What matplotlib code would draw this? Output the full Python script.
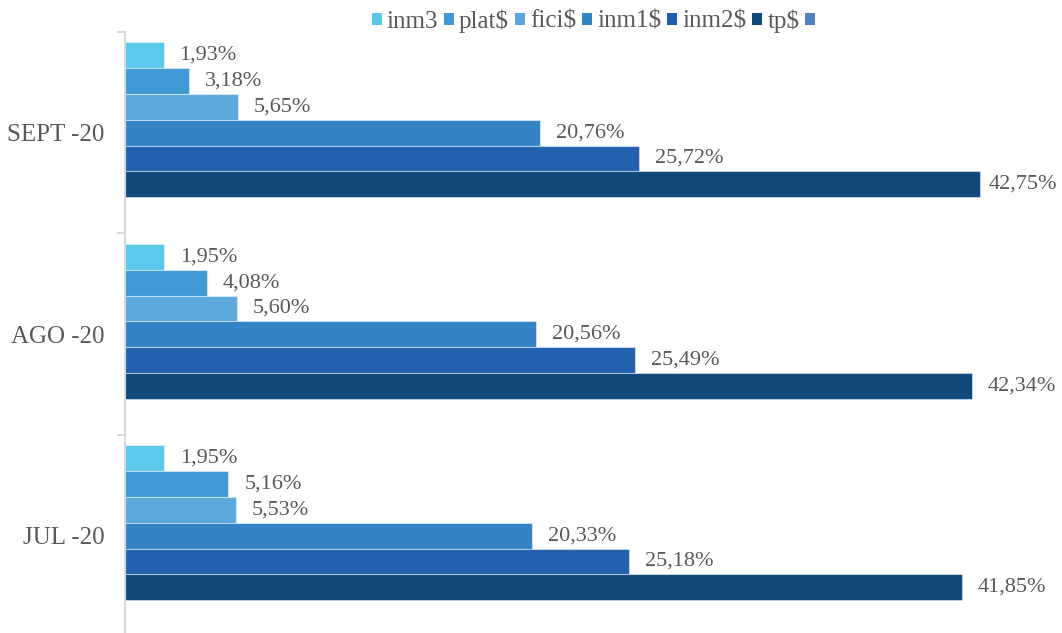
import numpy as np
import matplotlib
matplotlib.use("Agg")
import matplotlib.pyplot as plt
from matplotlib.patches import Patch
from matplotlib.transforms import ScaledTranslation

# Categories (bottom to top on the chart)
months = ["JUL -20", "AGO -20", "SEPT -20"]

# Share of each instrument per month (%)
series_names = ["inm3", "plat$", "fici$", "inm1$", "inm2$", "tp$", ""]
inm3 = [1.95, 1.95, 1.93]
plat = [5.16, 4.08, 3.18]
fici = [5.53, 5.60, 5.65]
inm1 = [20.33, 20.56, 20.76]
inm2 = [25.18, 25.49, 25.72]
tp = [41.85, 42.34, 42.75]
blank = [np.nan, np.nan, np.nan]  # empty series, keeps its slot in each group

values = [inm3, plat, fici, inm1, inm2, tp, blank]
colors = ["#5BC9E9", "#409AD5", "#5CA9DD", "#3584C6", "#2361AE", "#11497A", "#4F81BD"]

plt.rcParams["font.family"] = ["Liberation Serif", "DejaVu Serif"]
text_color = "#595959"

fig = plt.figure(figsize=(10.62, 6.33), dpi=100)
ax = fig.add_axes([125 / 1062, -0.0055, 1 - 125 / 1062, 0.955])

n = len(values)
bar_h = 0.128
y = np.arange(len(months))
labels = []
for i, (vals, col) in enumerate(zip(values, colors)):
    pos = y + bar_h * n / 2 - (i + 0.5) * bar_h
    ax.barh(pos, vals, height=bar_h, color=col,
            edgecolor=(1, 1, 1, 0.45), linewidth=0.8)
    if series_names[i]:
        for p, v in zip(pos, vals):
            t = ax.text(v + 0.8, p, f"{v:.2f}%".replace(".", ","),
                        va="center", ha="left", fontsize=16, color=text_color)
            labels.append(t)

ax.set_xlim(0, (1062 - 125) / 20)
ax.set_ylim(-0.5, len(months) - 0.5)

# Tick marks at category boundaries, labels at category centres
ax.set_yticks(np.arange(-0.5, len(months), 1.0))
ax.set_yticklabels([])
ax.set_yticks(y, minor=True)
ax.set_yticklabels(months, minor=True, fontsize=18, color=text_color)
ax.tick_params(axis="y", which="major", length=6, width=1.5, color="#D9D9D9", direction="out")
ax.tick_params(axis="y", which="minor", length=0, pad=15)
ax.set_xticks([])

for s in ["top", "right", "bottom"]:
    ax.spines[s].set_visible(False)
ax.spines["left"].set_color("#D9D9D9")
ax.spines["left"].set_linewidth(1.5)

handles = [Patch(facecolor=c, edgecolor="none") for c in colors]
fig.legend(handles, series_names, loc="center", bbox_to_anchor=(596 / 1062, 1 - 21 / 633),
           ncol=n, frameon=False, fontsize=18, labelcolor=text_color,
           handlelength=0.4, handleheight=0.4, handletextpad=0.2,
           columnspacing=0.24, borderpad=0)

# Pull any value label that would run past the right edge back inside
fig.canvas.draw()
renderer = fig.canvas.get_renderer()
fig_w = fig.bbox.width
for t in labels:
    bb = t.get_window_extent(renderer)
    overflow = bb.x1 - (fig_w - 5)
    if overflow > 0:
        t.set_transform(t.get_transform() + ScaledTranslation(-overflow / fig.dpi, 0, fig.dpi_scale_trans))

fig.savefig("out.png", dpi=100)
